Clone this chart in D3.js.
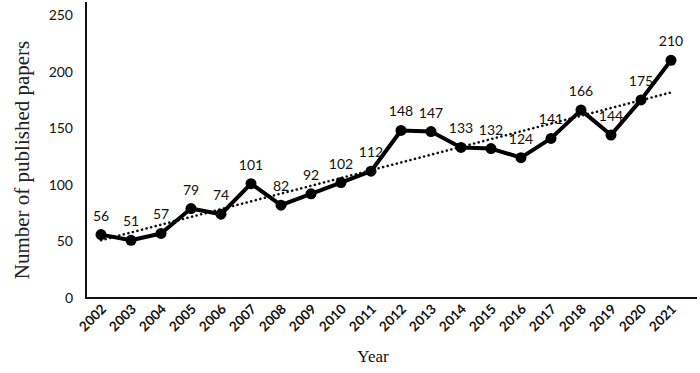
<!DOCTYPE html>
<html>
<head>
<meta charset="utf-8">
<script src="https://cdn.jsdelivr.net/npm/d3@7"></script>
<style>
  body { margin: 0; background: #fff; }
  svg { display: block; }
</style>
</head>
<body>
<div id="chart"></div>
<script>
// data
const years = ["2002", "2003", "2004", "2005", "2006", "2007", "2008", "2009", "2010", "2011",
    "2012", "2013", "2014", "2015", "2016", "2017", "2018", "2019", "2020", "2021"];
const papers = [56, 51, 57, 79, 74, 101, 82, 92, 102, 112, 148, 147, 133, 132, 124, 141, 166, 144, 175, 210];
const yTicks = [0, 50, 100, 150, 200, 250];

const W = 700, H = 373;
const plot = { left: 86, right: 686, top: 15, bottom: 298 };

const svg = d3.select("#chart")
    .append("svg")
    .attr("width", W)
    .attr("height", H);

// X scale - one band per year
const x = d3.scaleBand()
    .domain(years)
    .range([plot.left, plot.right]);
const cx = d => x(d) + x.bandwidth() / 2;

// Y scale
const y = d3.scaleLinear()
    .domain([0, 250])
    .range([plot.bottom, plot.top]);

// Y axis labels (no tick marks)
const yAxis = svg.append("g")
    .attr("transform", `translate(${plot.left}, 0)`)
    .call(d3.axisLeft(y).tickValues(yTicks).tickSize(0).tickPadding(13));
yAxis.select(".domain").remove();
yAxis.selectAll("text")
    .attr("font-family", "Lato, 'Open Sans', sans-serif")
    .attr("font-size", 14)
    .attr("fill", "#111");

// axis lines
svg.append("line")
    .attr("x1", plot.left).attr("x2", plot.left)
    .attr("y1", 2).attr("y2", plot.bottom + 1)
    .attr("stroke", "#111").attr("stroke-width", 2);
svg.append("line")
    .attr("x1", plot.left - 1).attr("x2", 697)
    .attr("y1", plot.bottom).attr("y2", plot.bottom)
    .attr("stroke", "#111").attr("stroke-width", 2);

// X labels, rotated
const xAxis = svg.append("g")
    .attr("transform", `translate(0, ${plot.bottom})`)
    .call(d3.axisBottom(x).tickSize(0).tickPadding(0));
xAxis.select(".domain").remove();
xAxis.selectAll("text")
    .attr("font-family", "Lato, 'Open Sans', sans-serif")
    .attr("font-size", 13.5)
    .attr("font-weight", "bold")
    .attr("fill", "#111")
    .attr("text-anchor", "end")
    .attr("dy", 0)
    .attr("transform", "translate(6, 12) rotate(-45)");

// axis titles
svg.append("text")
    .attr("transform", `translate(29, 160) rotate(-90)`)
    .attr("text-anchor", "middle")
    .attr("font-family", "'Liberation Serif', serif")
    .attr("font-size", 21)
    .attr("fill", "#222")
    .text("Number of published papers");

svg.append("text")
    .attr("x", 373)
    .attr("y", 362)
    .attr("text-anchor", "middle")
    .attr("font-family", "'Liberation Serif', serif")
    .attr("font-size", 17)
    .attr("fill", "#111")
    .text("Year");

// linear trend (least squares over the data)
const n = papers.length;
const idx = d3.range(n);
const mx = d3.mean(idx), my = d3.mean(papers);
const slope = d3.sum(idx, i => (i - mx) * (papers[i] - my)) / d3.sum(idx, i => (i - mx) * (i - mx));
const icpt = my - slope * mx;

svg.append("line")
    .attr("x1", cx(years[0]))
    .attr("y1", y(icpt))
    .attr("x2", cx(years[n - 1]))
    .attr("y2", y(icpt + slope * (n - 1)))
    .attr("stroke", "#111")
    .attr("stroke-width", 2.6)
    .attr("stroke-linecap", "round")
    .attr("stroke-dasharray", "0.1 4.6");

// main line
const line = d3.line()
    .x((d, i) => cx(years[i]))
    .y(d => y(d));

svg.append("path")
    .datum(papers)
    .attr("fill", "none")
    .attr("stroke", "#000")
    .attr("stroke-width", 4)
    .attr("stroke-linejoin", "round")
    .attr("d", line);

svg.append("g")
    .selectAll("circle")
    .data(papers)
    .enter()
    .append("circle")
    .attr("cx", (d, i) => cx(years[i]))
    .attr("cy", d => y(d))
    .attr("r", 5.5)
    .attr("fill", "#000");

// value labels
svg.append("g")
    .selectAll("text")
    .data(papers)
    .enter()
    .append("text")
    .attr("x", (d, i) => cx(years[i]))
    .attr("y", d => y(d) - 14)
    .attr("text-anchor", "middle")
    .attr("font-family", "Lato, 'Open Sans', sans-serif")
    .attr("font-size", 14)
    .attr("fill", "#111")
    .text(d => d);
</script>
</body>
</html>
